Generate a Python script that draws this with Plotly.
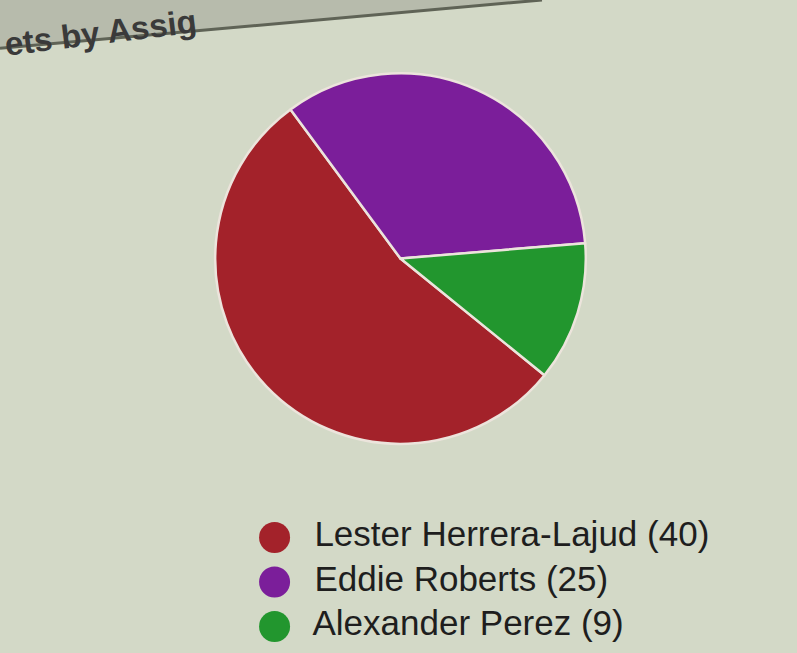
import plotly.graph_objects as go

names = ["Lester Herrera-Lajud", "Eddie Roberts", "Alexander Perez"]
counts = [40, 25, 9]
colors = ["#a3222a", "#7b1e9a", "#22962e"]
labels = [f"{n} ({c})" for n, c in zip(names, counts)]
title_text = "<b>ets by Assig</b>"

bg = "#d3d9c7"

fig = go.Figure()

fig.add_trace(go.Pie(
    labels=names,
    values=counts,
    sort=False,
    direction="clockwise",
    rotation=129,
    marker=dict(colors=colors, line=dict(color="#ece4dc", width=2.5)),
    textinfo="none",
    hoverinfo="label+value",
    showlegend=False,
    domain=dict(x=[0.27, 0.735], y=[0.318, 0.89]),
))

# custom legend with round markers
fig.add_trace(go.Scatter(
    x=[0.5] * len(names),
    y=names,
    mode="markers+text",
    marker=dict(size=31, color=colors),
    text=["  " + l for l in labels],
    textposition="middle right",
    textfont=dict(family="Liberation Sans, Arial, sans-serif", size=35, color="#1e1e1e"),
    hoverinfo="skip",
    showlegend=False,
    cliponaxis=False,
    xaxis="x", yaxis="y",
))

fig.update_layout(
    width=797, height=653,
    margin=dict(l=0, r=0, t=0, b=0),
    paper_bgcolor=bg,
    plot_bgcolor=bg,
    xaxis=dict(domain=[0.31, 1.0], range=[0, 10], visible=False, fixedrange=True),
    yaxis=dict(domain=[0.0, 0.2175], type="category", categoryorder="array",
               categoryarray=names, autorange="reversed", visible=False, fixedrange=True),
    shapes=[
        dict(type="path", xref="paper", yref="paper",
             path="M 0 1 L 0 0.926 L 0.68 1 Z",
             fillcolor="#b7bbac", line=dict(width=0), layer="below"),
        dict(type="line", xref="paper", yref="paper",
             x0=0, y0=0.926, x1=0.68, y1=1.0,
             line=dict(color="#5f6356", width=3)),
    ],
    annotations=[
        dict(text=title_text, xref="paper", yref="paper", x=0.0, y=1.0,
             xanchor="left", yanchor="top", showarrow=False, textangle=-7,
             yshift=0, xshift=0,
             font=dict(family="Liberation Sans, Arial, sans-serif", size=33, color="#3a3a3a")),
    ],
)

fig.write_html("out.html")
